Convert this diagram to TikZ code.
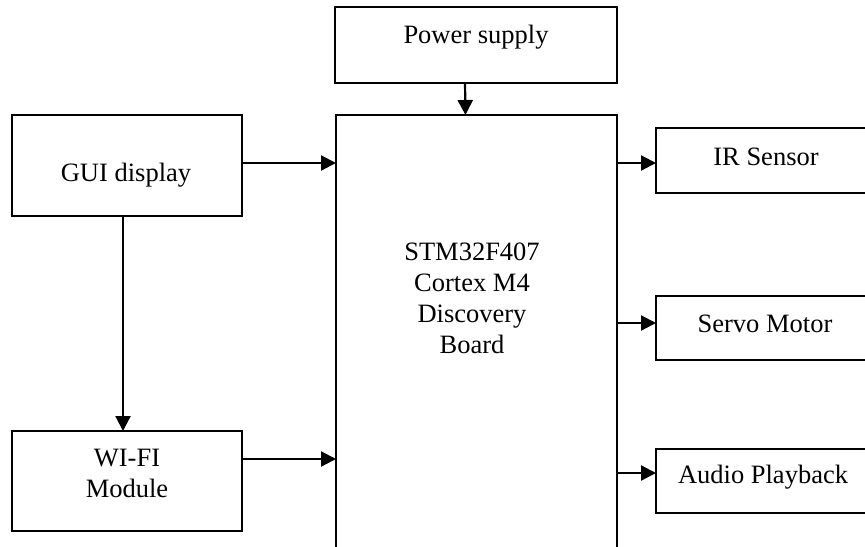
\documentclass[tikz,border=0pt]{standalone}
\usepackage{fontspec}
\setmainfont{Liberation Serif}
\usetikzlibrary{arrows.meta}
\begin{document}
\begin{tikzpicture}[x=0.5pt,y=-0.5pt,
  boxst/.style={draw, line width=1.1pt, inner sep=0pt, outer sep=0pt, fill=white},
  txt/.style={inner sep=0pt, align=center, font=\fontsize{13.25}{15.5}\selectfont},
  arr/.style={line width=1.1pt, -{Triangle[length=7.5pt,width=7.5pt]}}]
\useasboundingbox (0,0) rectangle (865,546);
\clip (0,0) rectangle (865,546);
\fill[white] (0,0) rectangle (865,546);
% boxes
\node[boxst, minimum width=141pt, minimum height=38pt] (ps) at (476,45) {};
\node[boxst, minimum width=140.5pt, minimum height=242.5pt] (main) at (476.5,357.5) {};
\node[boxst, minimum width=115pt, minimum height=50.5pt] (gui) at (127,165.5) {};
\node[boxst, minimum width=115pt, minimum height=50pt] (wifi) at (127,481) {};
\node[boxst, minimum width=110pt, minimum height=32.5pt] (ir) at (766,160.5) {};
\node[boxst, minimum width=110pt, minimum height=32pt] (servo) at (766,328) {};
\node[boxst, minimum width=110pt, minimum height=32pt] (audio) at (766,481) {};
% texts
\node[txt] (pstext) at (476,37) {Power supply};
\node[txt] (maintext) at (472,298) {STM32F407\\Cortex M4\\Discovery\\Board};
\node[txt] (guitext) at (126,175) {GUI display};
\node[txt] (wifitext) at (127,473.5) {WI-FI\\Module};
\node[txt] (irtext) at (766,157) {IR Sensor};
\node[txt] (servotext) at (765,324) {Servo Motor};
\node[txt] (audiotext) at (763,477) {Audio Playback};
% connectors
\draw[arr] ([xshift=-5.5pt]ps.south) -- ([xshift=-5.5pt]main.north);
\draw[arr] ([yshift=1.25pt]gui.east) -- ([yshift=1.25pt]gui.east -| main.west);
\draw[arr] ([xshift=-2pt]gui.south) -- ([xshift=-2pt]wifi.north);
\draw[arr] ([yshift=11pt]wifi.east) -- ([yshift=11pt]wifi.east -| main.west);
\draw[arr] ([yshift=-1.25pt]ir.west -| main.east) -- ([yshift=-1.25pt]ir.west);
\draw[arr] ([yshift=2.5pt]servo.west -| main.east) -- ([yshift=2.5pt]servo.west);
\draw[arr] ([yshift=4pt]audio.west -| main.east) -- ([yshift=4pt]audio.west);
\end{tikzpicture}
\end{document}
